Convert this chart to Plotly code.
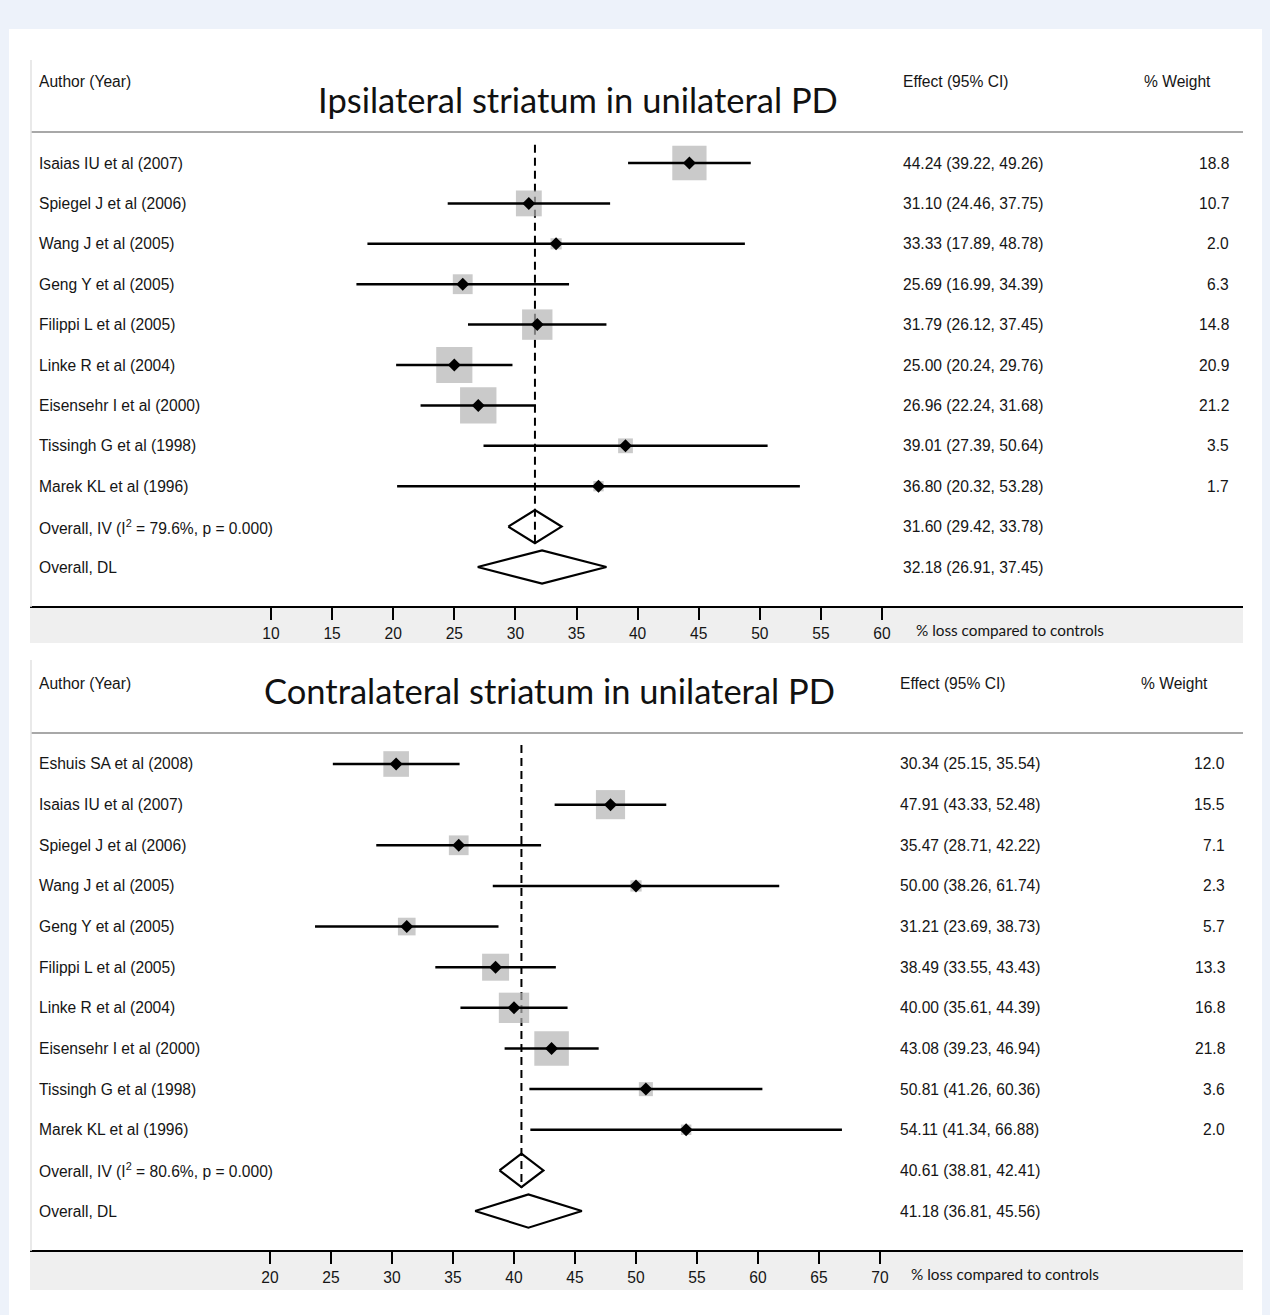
import plotly.graph_objects as go

# ---------------- data ----------------
top_title = "Ipsilateral striatum in unilateral PD"
top_studies = ["Isaias IU et al (2007)", "Spiegel J et al (2006)", "Wang J et al (2005)",
               "Geng Y et al (2005)", "Filippi L et al (2005)", "Linke R et al (2004)",
               "Eisensehr I et al (2000)", "Tissingh G et al (1998)", "Marek KL et al (1996)"]
top_est = [44.24, 31.10, 33.33, 25.69, 31.79, 25.00, 26.96, 39.01, 36.80]
top_lo = [39.22, 24.46, 17.89, 16.99, 26.12, 20.24, 22.24, 27.39, 20.32]
top_hi = [49.26, 37.75, 48.78, 34.39, 37.45, 29.76, 31.68, 50.64, 53.28]
top_w = [18.8, 10.7, 2.0, 6.3, 14.8, 20.9, 21.2, 3.5, 1.7]
top_overall_labels = ["Overall, IV (I<sup>2</sup> = 79.6%, p = 0.000)", "Overall, DL"]
top_overall_est = [31.60, 32.18]
top_overall_lo = [29.42, 26.91]
top_overall_hi = [33.78, 37.45]
top_ticks = [10, 15, 20, 25, 30, 35, 40, 45, 50, 55, 60]

bot_title = "Contralateral striatum in unilateral PD"
bot_studies = ["Eshuis SA et al (2008)", "Isaias IU et al (2007)", "Spiegel J et al (2006)",
               "Wang J et al (2005)", "Geng Y et al (2005)", "Filippi L et al (2005)",
               "Linke R et al (2004)", "Eisensehr I et al (2000)", "Tissingh G et al (1998)",
               "Marek KL et al (1996)"]
bot_est = [30.34, 47.91, 35.47, 50.00, 31.21, 38.49, 40.00, 43.08, 50.81, 54.11]
bot_lo = [25.15, 43.33, 28.71, 38.26, 23.69, 33.55, 35.61, 39.23, 41.26, 41.34]
bot_hi = [35.54, 52.48, 42.22, 61.74, 38.73, 43.43, 44.39, 46.94, 60.36, 66.88]
bot_w = [12.0, 15.5, 7.1, 2.3, 5.7, 13.3, 16.8, 21.8, 3.6, 2.0]
bot_overall_labels = ["Overall, IV (I<sup>2</sup> = 80.6%, p = 0.000)", "Overall, DL"]
bot_overall_est = [40.61, 41.18]
bot_overall_lo = [38.81, 36.81]
bot_overall_hi = [42.41, 45.56]
bot_ticks = [20, 25, 30, 35, 40, 45, 50, 55, 60, 65, 70]

axis_title = "% loss compared to controls"

# ---------------- layout helpers ----------------
W, H = 1270, 1315
BG = "#edf2fa"
def px(x):
    return x / W
def py(y):
    return 1 - y / H

TXT = dict(family="Liberation Sans, Arial, sans-serif", size=15.6, color="#151515")
TITLE_FONT = dict(family="Lato, Open Sans, sans-serif", size=34.5, color="#111111")
AXT_FONT = dict(family="Lato, Open Sans, sans-serif", size=15.3, color="#151515")
PAD = dict(borderpad=0, borderwidth=0)

panels = [
    dict(title=top_title, studies=top_studies, est=top_est, lo=top_lo, hi=top_hi, w=top_w,
         olab=top_overall_labels, oest=top_overall_est, olo=top_overall_lo, ohi=top_overall_hi,
         ticks=top_ticks, xref="x", yref="y",
         x0px=271, x0v=10, pxu=12.22, row0=163, rowh=40.4,
         top=29, axis=607, band=643, header=82, hline=132, border_top=60,
         title_x=578, title_y=100, eff_x=903, w_x=1229, wh_x=1211, axt_x=916,
         box_k=7.9, dash_top=-0.45, dash_bot=0.41),
    dict(title=bot_title, studies=bot_studies, est=bot_est, lo=bot_lo, hi=bot_hi, w=bot_w,
         olab=bot_overall_labels, oest=bot_overall_est, olo=bot_overall_lo, ohi=bot_overall_hi,
         ticks=bot_ticks, xref="x2", yref="y2",
         x0px=270, x0v=20, pxu=12.2, row0=764, rowh=40.64,
         top=655, axis=1251, band=1290, header=683, hline=733, border_top=660,
         title_x=549, title_y=690, eff_x=900, w_x=1225, wh_x=1208, axt_x=911,
         box_k=7.4, dash_top=-0.47, dash_bot=0.43),
]

fig = go.Figure()
shapes = []
annotations = []

# white card
shapes.append(dict(type="rect", xref="paper", yref="paper", x0=px(9), x1=px(1262),
                   y0=0, y1=py(29), fillcolor="white", line=dict(width=0), layer="below"))

layout_axes = {}
for i, p in enumerate(panels):
    xr, yr = p["xref"], p["yref"]
    n = len(p["studies"])
    iv_row = n
    # dashed line at IV overall estimate
    fig.add_trace(go.Scatter(
        x=[p["oest"][0], p["oest"][0]], y=[p["dash_top"], iv_row + p["dash_bot"]],
        mode="lines", line=dict(color="black", width=2, dash="8px,5px"),
        xaxis=xr, yaxis=yr, hoverinfo="skip", showlegend=False))
    # weight boxes
    fig.add_trace(go.Scatter(
        x=p["est"], y=list(range(n)), mode="markers",
        marker=dict(symbol="square", color="#b3b3b3",
                    size=[p["box_k"] * (w ** 0.5) for w in p["w"]], line=dict(width=0)),
        xaxis=xr, yaxis=yr, hoverinfo="skip", showlegend=False))
    # CI lines
    cx, cy = [], []
    for r in range(n):
        cx += [p["lo"][r], p["hi"][r], None]
        cy += [r, r, None]
    fig.add_trace(go.Scatter(x=cx, y=cy, mode="lines", line=dict(color="black", width=2.5),
                             xaxis=xr, yaxis=yr, hoverinfo="skip", showlegend=False))
    # point estimates
    fig.add_trace(go.Scatter(
        x=p["est"], y=list(range(n)), mode="markers",
        marker=dict(symbol="diamond", color="black", size=10),
        xaxis=xr, yaxis=yr, hoverinfo="skip", showlegend=False))
    # overall diamonds
    for k in range(2):
        r = n + k
        e, lo, hi = p["oest"][k], p["olo"][k], p["ohi"][k]
        hh = 0.41
        fig.add_trace(go.Scatter(
            x=[lo, e, hi, e, lo], y=[r, r - hh, r, r + hh, r], mode="lines",
            line=dict(color="black", width=2.2), xaxis=xr, yaxis=yr,
            hoverinfo="skip", showlegend=False))

    # axes mapping
    v_left = p["x0v"] - p["x0px"] / p["pxu"]
    v_right = p["x0v"] + (W - p["x0px"]) / p["pxu"]
    r_bottom = (p["axis"] - p["row0"]) / p["rowh"]
    r_top = (p["top"] - p["row0"]) / p["rowh"]
    xkey = "xaxis" if i == 0 else "xaxis2"
    ykey = "yaxis" if i == 0 else "yaxis2"
    layout_axes[xkey] = dict(domain=[0, 1], range=[v_left, v_right], anchor=yr,
                             tickmode="array", tickvals=p["ticks"],
                             ticktext=[str(t) for t in p["ticks"]],
                             ticks="outside", ticklen=12, tickwidth=1.8, tickcolor="black",
                             showline=False, showgrid=False, zeroline=False,
                             tickfont=TXT, fixedrange=True)
    layout_axes[ykey] = dict(domain=[py(p["axis"]), py(p["top"])], range=[r_bottom, r_top],
                             anchor=xr, showticklabels=False, showgrid=False, zeroline=False,
                             showline=False, ticks="", fixedrange=True)

    # shapes: band, axis line, header line, left border
    shapes.append(dict(type="rect", xref="paper", yref="paper", x0=px(30), x1=px(1243),
                       y0=py(p["band"]), y1=py(p["axis"]), fillcolor="#efefef",
                       line=dict(width=0), layer="below"))
    shapes.append(dict(type="line", xref="paper", yref="paper", x0=px(30), x1=px(1243),
                       y0=py(p["axis"]), y1=py(p["axis"]), line=dict(color="black", width=2)))
    shapes.append(dict(type="line", xref="paper", yref="paper", x0=px(31), x1=px(1243),
                       y0=py(p["hline"]), y1=py(p["hline"]), line=dict(color="#a8a8a8", width=2)))
    shapes.append(dict(type="line", xref="paper", yref="paper", x0=px(31), x1=px(31),
                       y0=py(p["axis"]), y1=py(p["border_top"]), line=dict(color="#e2e2e2", width=1.5)))

    # header texts
    annotations.append(dict(text="Author (Year)", xref="paper", yref="paper", x=px(39),
                            y=py(p["header"]), xanchor="left", yanchor="middle",
                            showarrow=False, font=TXT, **PAD))
    annotations.append(dict(text="Effect (95% CI)", xref="paper", yref="paper", x=px(p["eff_x"]),
                            y=py(p["header"]), xanchor="left", yanchor="middle",
                            showarrow=False, font=TXT, **PAD))
    annotations.append(dict(text="% Weight", xref="paper", yref="paper", x=px(p["wh_x"]),
                            y=py(p["header"]), xanchor="right", yanchor="middle",
                            showarrow=False, font=TXT, **PAD))
    annotations.append(dict(text=p["title"], xref="paper", yref="paper", x=px(p["title_x"]),
                            y=py(p["title_y"]), xanchor="center", yanchor="middle",
                            showarrow=False, font=TITLE_FONT, **PAD))
    annotations.append(dict(text=axis_title, xref="paper", yref="paper", x=px(p["axt_x"]),
                            y=py(p["axis"] + 23), xanchor="left", yanchor="middle",
                            showarrow=False, font=AXT_FONT, **PAD))

    # row texts
    labels = p["studies"] + p["olab"]
    ests = p["est"] + p["oest"]
    los = p["lo"] + p["olo"]
    his = p["hi"] + p["ohi"]
    for r, lab in enumerate(labels):
        annotations.append(dict(text=lab, xref="paper", yref=yr, x=px(39), y=r,
                                xanchor="left", yanchor="middle", showarrow=False,
                                font=TXT, **PAD))
        annotations.append(dict(text=f"{ests[r]:.2f} ({los[r]:.2f}, {his[r]:.2f})",
                                xref="paper", yref=yr, x=px(p["eff_x"]), y=r,
                                xanchor="left", yanchor="middle", showarrow=False,
                                font=TXT, **PAD))
    for r, w in enumerate(p["w"]):
        annotations.append(dict(text=f"{w:.1f}", xref="paper", yref=yr, x=px(p["w_x"]), y=r,
                                xanchor="right", yanchor="middle", showarrow=False,
                                font=TXT, **PAD))

fig.update_layout(
    width=W, height=H, margin=dict(l=0, r=0, t=0, b=0, pad=0),
    paper_bgcolor=BG, plot_bgcolor="rgba(0,0,0,0)",
    shapes=shapes, annotations=annotations, showlegend=False,
    **layout_axes,
)

fig.write_html(
    "out.html",
    config={"displayModeBar": False},
    post_script="document.body.style.margin='0px';document.body.style.background='" + BG + "';",
)
